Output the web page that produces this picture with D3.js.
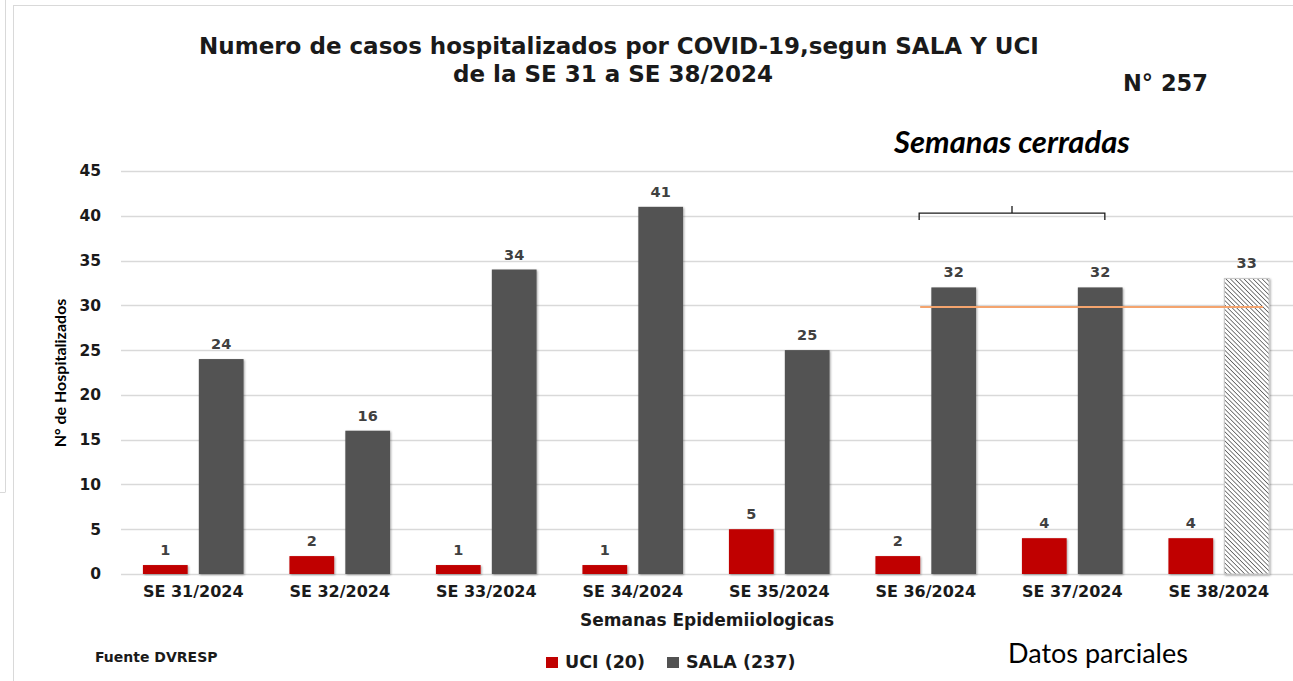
<!DOCTYPE html>
<html>
<head>
<meta charset="utf-8">
<script src="https://cdn.jsdelivr.net/npm/d3@7"></script>
<style>
  body { margin: 0; background: #fff; }
  svg { display: block; }
</style>
</head>
<body>
<div id="chart"></div>
<script>
var semanas = ["SE 31/2024", "SE 32/2024", "SE 33/2024", "SE 34/2024", "SE 35/2024", "SE 36/2024", "SE 37/2024", "SE 38/2024"];
var uci = [1, 2, 1, 1, 5, 2, 4, 4];
var sala = [24, 16, 34, 41, 25, 32, 32, 33];
var yTicks = [0, 5, 10, 15, 20, 25, 30, 35, 40, 45];
var series = ["UCI", "SALA"];
var parcial = "SE 38/2024";
var refLinea = 29.8;

var W = 1293, H = 681;
var colors = {UCI: "#c00000", SALA: "#525252"};
var tFont = "'DejaVu Sans', Verdana, sans-serif";

var svg = d3.select("#chart").append("svg")
    .attr("width", W).attr("height", H);

var defs = svg.append("defs");
var f = defs.append("filter").attr("id", "sh").attr("x", "-20%").attr("y", "-20%").attr("width", "140%").attr("height", "140%");
f.append("feDropShadow").attr("dx", 1).attr("dy", 1).attr("stdDeviation", 1.2).attr("flood-color", "#000").attr("flood-opacity", 0.35);

var pat = defs.append("pattern").attr("id", "hatch")
    .attr("patternUnits", "userSpaceOnUse").attr("width", 3.2).attr("height", 3.2)
    .attr("patternTransform", "rotate(-45)");
pat.append("rect").attr("width", 3.2).attr("height", 3.2).attr("fill", "#fff");
pat.append("line").attr("x1", 0).attr("y1", 0).attr("x2", 0).attr("y2", 3.2)
    .attr("stroke", "#3a3a3a").attr("stroke-width", 1.3);

// frame lines
svg.append("line").attr("x1", 13).attr("x2", W).attr("y1", 5.5).attr("y2", 5.5).attr("stroke", "#d9d9d9");
svg.append("line").attr("x1", 13.5).attr("x2", 13.5).attr("y1", 5).attr("y2", H).attr("stroke", "#d9d9d9");
svg.append("line").attr("x1", 5.5).attr("x2", 5.5).attr("y1", 0).attr("y2", 492).attr("stroke", "#d9d9d9");
svg.append("line").attr("x1", 0).attr("x2", 5.5).attr("y1", 492.5).attr("y2", 492.5).attr("stroke", "#d9d9d9");

var x0 = d3.scaleBand().domain(semanas).range([120, 1292]).paddingInner(0).paddingOuter(0);
var x1 = d3.scaleBand().domain(series).range([0, x0.bandwidth()]).paddingInner(0.2).paddingOuter(0.41);
var y = d3.scaleLinear().domain([0, 45]).range([574, 171]);

// grid
svg.append("g").selectAll("line").data(yTicks).enter().append("line")
    .attr("x1", 121).attr("x2", W)
    .attr("y1", function(d) { return Math.round(y(d)) + 0.5; })
    .attr("y2", function(d) { return Math.round(y(d)) + 0.5; })
    .attr("stroke", "#d9d9d9").attr("stroke-width", 1.5);

// y axis labels
var yAxis = svg.append("g").attr("transform", "translate(101,0)")
    .call(d3.axisLeft(y).tickValues(yTicks).tickSize(0).tickPadding(0));
yAxis.select(".domain").remove();
yAxis.selectAll("text")
    .style("font-family", tFont)
    .style("font-weight", "bold").style("font-size", "15.5px").style("fill", "#1a1a1a");

// x axis labels
var xAxis = svg.append("g").attr("transform", "translate(0,586)")
    .call(d3.axisBottom(x0).tickSize(0).tickPadding(0));
xAxis.select(".domain").remove();
xAxis.selectAll("text")
    .style("font-family", tFont)
    .style("font-weight", "bold").style("font-size", "16px").style("fill", "#1a1a1a");

var rows = semanas.map(function(s, i) {
    return {sem: s, vals: [{k: "UCI", v: uci[i], sem: s}, {k: "SALA", v: sala[i], sem: s}]};
});

var g = svg.selectAll(".cat").data(rows).enter().append("g")
    .attr("class", "cat")
    .attr("transform", function(d) { return "translate(" + x0(d.sem) + ",0)"; });

g.selectAll("rect").data(function(d) { return d.vals; }).enter().append("rect")
    .attr("x", function(d) { return x1(d.k); })
    .attr("y", function(d) { return y(d.v); })
    .attr("width", x1.bandwidth())
    .attr("height", function(d) { return y(0) - y(d.v); })
    .attr("fill", function(d) { return (d.k === "SALA" && d.sem === parcial) ? "url(#hatch)" : colors[d.k]; })
    .attr("stroke", function(d) { return (d.k === "SALA" && d.sem === parcial) ? "#c8c8c8" : "none"; })
    .attr("filter", "url(#sh)");

g.selectAll(".lbl").data(function(d) { return d.vals; }).enter().append("text")
    .attr("class", "lbl")
    .attr("x", function(d) { return x1(d.k) + x1.bandwidth() / 2; })
    .attr("y", function(d) { return y(d.v) - 10; })
    .attr("text-anchor", "middle")
    .style("font-family", tFont)
    .style("font-weight", "bold").style("font-size", "14.5px").style("fill", "#404040")
    .text(function(d) { return d.v; });

// orange reference line
var lx1 = x0("SE 36/2024") + x1("UCI") + x1.bandwidth();
var lx2 = x0("SE 38/2024") + x1("SALA") + x1.bandwidth() - 6;
svg.append("line").attr("x1", lx1).attr("x2", lx2)
    .attr("y1", y(refLinea)).attr("y2", y(refLinea))
    .attr("stroke", "#f4a46e").attr("stroke-width", 2);

// bracket
var bx1 = x0("SE 36/2024") + x1("UCI") + x1.bandwidth() - 1;
var bx2 = x0("SE 37/2024") + x1("SALA") + 27;
var by = y(40.3);
var bm = (bx1 + bx2) / 2;
svg.append("path")
    .attr("d", "M" + bx1 + "," + (by + 7) + "V" + by + "H" + bx2 + "V" + (by + 7) +
        "M" + bm + "," + by + "V" + (by - 7))
    .attr("fill", "none").attr("stroke", "#1a1a1a").attr("stroke-width", 1.3);

svg.append("text").attr("x", bm).attr("y", 153).attr("text-anchor", "middle")
    .style("font-family", "Lato, 'Open Sans', sans-serif")
    .style("font-weight", "bold").style("font-style", "italic").style("font-size", "31px").style("fill", "#000")
    .text("Semanas cerradas");

// titles
svg.append("text").attr("x", 619).attr("y", 54).attr("text-anchor", "middle")
    .style("font-family", tFont).style("font-weight", "bold").style("font-size", "23px").style("fill", "#1a1a1a")
    .text("Numero de casos hospitalizados por COVID-19,segun SALA Y UCI");
svg.append("text").attr("x", 613).attr("y", 82).attr("text-anchor", "middle")
    .style("font-family", tFont).style("font-weight", "bold").style("font-size", "23px").style("fill", "#1a1a1a")
    .text("de la SE 31 a SE 38/2024");
svg.append("text").attr("x", 1123).attr("y", 91)
    .style("font-family", tFont).style("font-weight", "bold").style("font-size", "22.5px").style("fill", "#1a1a1a")
    .text("N° 257");

svg.append("text").attr("x", 707).attr("y", 626).attr("text-anchor", "middle")
    .style("font-family", tFont).style("font-weight", "bold").style("font-size", "17px").style("fill", "#1a1a1a")
    .text("Semanas Epidemiiologicas");

svg.append("text").attr("transform", "translate(66,373) rotate(-90)").attr("text-anchor", "middle")
    .style("font-family", "Lato, 'Open Sans', sans-serif").style("font-weight", "bold").style("font-size", "16px").style("fill", "#000")
    .text("N° de Hospitalizados");

svg.append("text").attr("x", 95).attr("y", 662)
    .style("font-family", tFont).style("font-weight", "bold").style("font-size", "14px").style("fill", "#1a1a1a")
    .text("Fuente DVRESP");

svg.append("text").attr("x", 1008).attr("y", 663)
    .style("font-family", "Lato, 'Open Sans', sans-serif").style("font-size", "27px").style("fill", "#000")
    .text("Datos parciales");

// legend
var legendItems = [
    {k: "UCI", label: "UCI (20)", x: 546},
    {k: "SALA", label: "SALA (237)", x: 667}
];
var lg = svg.selectAll(".leg").data(legendItems).enter().append("g")
    .attr("class", "leg").attr("transform", function(d) { return "translate(" + d.x + ",657)"; });
lg.append("rect").attr("width", 12).attr("height", 11).attr("fill", function(d) { return colors[d.k]; });
lg.append("text").attr("x", 19).attr("y", 11)
    .style("font-family", tFont).style("font-weight", "bold").style("font-size", "17.5px").style("fill", "#1a1a1a")
    .text(function(d) { return d.label; });
</script>
</body>
</html>
